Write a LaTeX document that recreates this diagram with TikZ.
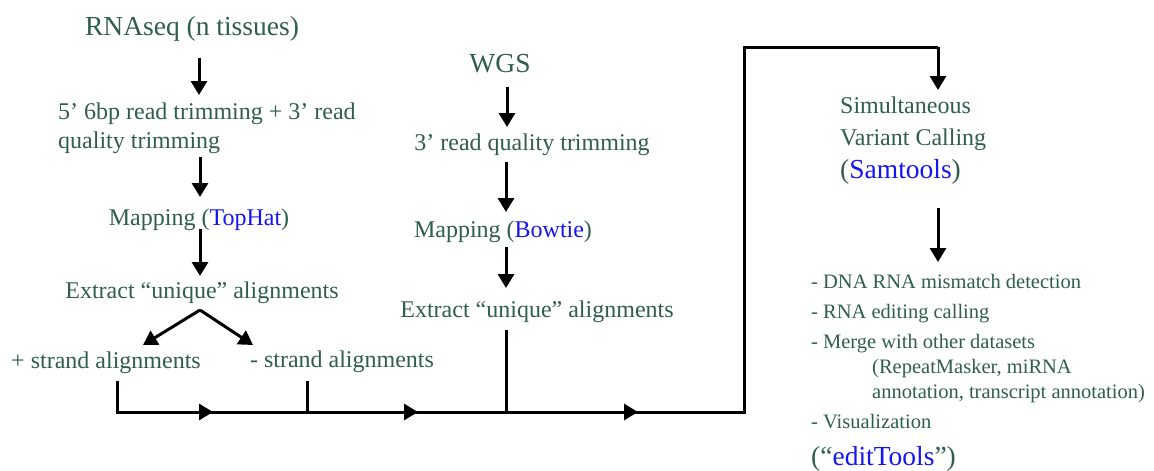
\documentclass[tikz,border=0pt]{standalone}
\usepackage{fontspec}
\setmainfont{Liberation Serif}
\usetikzlibrary{arrows.meta}
\definecolor{tgreen}{HTML}{2F5D4F}
\definecolor{tblue}{HTML}{1515F0}
\begin{document}
\begin{tikzpicture}[x=1pt,y=-1pt,
  txt/.style={inner sep=0pt, text=tgreen, anchor=base},
  txtl/.style={txt, anchor=base west},
  big/.style={font=\fontsize{27.5}{32}\selectfont},
  mid/.style={font=\fontsize{24}{29}\selectfont},
  small/.style={font=\fontsize{20.5}{25}\selectfont},
  conn/.style={line width=3pt},
  arr/.style={conn, -{Triangle[length=14pt,width=16pt]}},
]
\path[use as bounding box] (0,0) rectangle (1154,471);

% left column
\node[txt,big] (rna) at (192,35) {RNAseq (n tissues)};
\node[txtl,mid] (trimA) at (58,119) {5’ 6bp read trimming + 3’ read};
\node[txtl,mid] (trimB) at (58,148) {quality trimming};
\node[txt,mid] (mapA) at (199,225) {Mapping (\textcolor{tblue}{TopHat})};
\node[txt,mid] (extA) at (202,298) {Extract “unique” alignments};
\node[txt,mid] (plus) at (106,368) {+ strand alignments};
\node[txt,mid] (minus) at (342,367) {- strand alignments};

% middle column
\node[txt,big] (wgs) at (500,72) {WGS};
\node[txt,mid] (trimC) at (532,150) {3’ read quality trimming};
\node[txt,mid] (mapB) at (503,237) {Mapping (\textcolor{tblue}{Bowtie})};
\node[txt,mid] (extB) at (537,317) {Extract “unique” alignments};

% right column
\node[txtl,mid] (simA) at (840,113) {Simultaneous};
\node[txtl,mid] (simB) at (840,145) {Variant Calling};
\node[txtl,big] (simC) at (840,178) {(\textcolor{tblue}{Samtools})};
\node[txtl,small] (bA) at (811,288) {- DNA RNA mismatch detection};
\node[txtl,small] (bB) at (811,318) {- RNA editing calling};
\node[txtl,small] (bC) at (811,348) {- Merge with other datasets};
\node[txtl,small] (bD) at (872,373) {(RepeatMasker, miRNA};
\node[txtl,small] (bE) at (872,398) {annotation, transcript annotation)};
\node[txtl,small] (bF) at (811,428) {- Visualization};
\node[txtl,big] (edit) at (811,465) {(“\textcolor{tblue}{editTools}”)};

% arrow coordinates
\coordinate (a1s) at (199,58);  \coordinate (a1e) at (199,95);
\coordinate (a2s) at (200,157); \coordinate (a2e) at (200,197);
\coordinate (a3s) at (200,229); \coordinate (a3e) at (200,276);
\coordinate (apex) at (200,310);
\coordinate (bl) at (143,345); \coordinate (br) at (253,345);
\coordinate (w1s) at (507,87);  \coordinate (w1e) at (507,127);
\coordinate (w2s) at (506,162); \coordinate (w2e) at (506,212);
\coordinate (w3s) at (506,247); \coordinate (w3e) at (506,288);
\coordinate (r1s) at (938,208); \coordinate (r1e) at (938,262);

\draw[arr] (a1s) -- (a1e);
\draw[arr] (a2s) -- (a2e);
\draw[arr] (a3s) -- (a3e);
\draw[arr] (apex) -- (bl);
\draw[arr] (apex) -- (br);
\draw[arr] (w1s) -- (w1e);
\draw[arr] (w2s) -- (w2e);
\draw[arr] (w3s) -- (w3e);
\draw[arr] (r1s) -- (r1e);

% merging line
\coordinate (p1) at (117,381); \coordinate (c1) at (117,412);
\coordinate (m1) at (213,412);
\coordinate (p2) at (307,381); \coordinate (j2) at (307,412);
\coordinate (m2) at (418,412);
\coordinate (p3) at (506,330); \coordinate (j3) at (506,412);
\coordinate (m3) at (638,412);
\coordinate (c4) at (744,412); \coordinate (c5) at (744,47);
\coordinate (c6) at (938,47);  \coordinate (fin) at (938,90);

\draw[conn] (p1) -- (c1) -- (j2);
\draw[arr] (c1) -- (m1);
\draw[conn] (p2) -- (j2) -- (j3);
\draw[arr] (j2) -- (m2);
\draw[conn] (p3) -- (j3) -- (c4) -- (c5) -- (c6);
\draw[arr] (j3) -- (m3);
\draw[arr] (c6) -- (fin);
\end{tikzpicture}
\end{document}
